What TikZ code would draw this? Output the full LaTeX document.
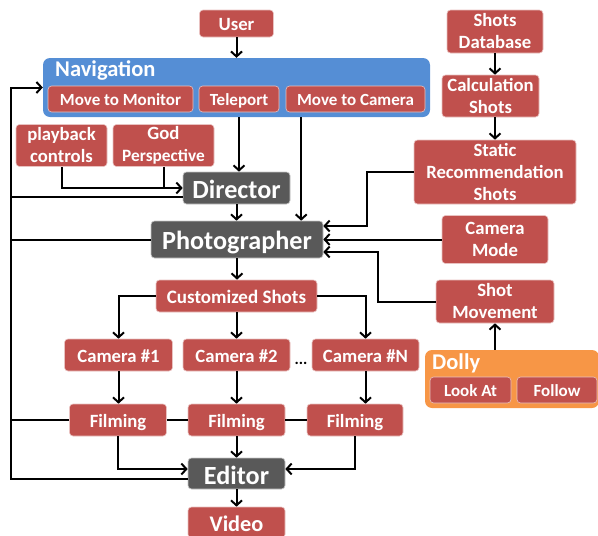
\documentclass[tikz,border=0pt]{standalone}
\usepackage{fontspec}
\setmainfont{Carlito}
\usetikzlibrary{arrows.meta}
\definecolor{myred}{HTML}{C0504D}
\definecolor{mygray}{HTML}{595959}
\definecolor{myblue}{HTML}{558ED5}
\definecolor{myorange}{HTML}{F79646}
\tikzset{
  box/.style={rounded corners=3.5pt, inner sep=0pt, text=white, align=center, line width=0.6pt},
  rbox/.style={box, fill=myred, draw=white!65!myred, font=\bfseries\fontsize{18.7}{22}\selectfont},
  sbox/.style={rbox, font=\bfseries\fontsize{17}{20}\selectfont},
  gbox/.style={box, fill=mygray, draw=white!65!mygray, font=\bfseries\fontsize{26.2}{28}\selectfont},
  oneline/.style={text height=#1pt, text depth=0.5pt},
  group/.style={rounded corners=7pt, inner sep=0pt},
  grouplabel/.style={text=white, inner sep=0pt, anchor=west, font=\bfseries\fontsize{22.5}{25}\selectfont},
  wire/.style={line width=2pt, black},
  arr/.style={wire, -{Straight Barb[length=5pt,width=11pt]}},
}
\begin{document}
\begin{tikzpicture}[x=1pt,y=-1pt]
\useasboundingbox (0,0) rectangle (598,536);
% containers
\node[group, fill=myblue, minimum width=387, minimum height=59] (nav) at (236.5,87.5) {};
\node[grouplabel] (navlabel) at (55,70) {Navigation};
\node[group, fill=myorange, minimum width=174, minimum height=58] (dolly) at (512,379) {};
\node[grouplabel] (dollylabel) at (432,363) {Dolly};
% nodes
\node[rbox, oneline=15.3, minimum width=74, minimum height=27] (user) at (236.5,23.5) {User};
\node[sbox, oneline=13.9, minimum width=145, minimum height=26] (mtm) at (120.5,99) {Move to Monitor};
\node[sbox, oneline=13.9, minimum width=80, minimum height=26] (tele) at (239,99) {Teleport};
\node[sbox, oneline=13.9, minimum width=139, minimum height=26] (mtc) at (355.5,99) {Move to Camera};
\node[rbox, minimum width=91, minimum height=42] (play) at (61.5,145.5) {playback\\controls};
\node[rbox, minimum width=101, minimum height=42] (god) at (163.5,145.5) {God\\{\fontsize{17.3}{20}\selectfont Perspective}};
\node[gbox, oneline=21.5, minimum width=107, minimum height=32] (dir) at (236.5,188) {Director};
\node[gbox, oneline=20.5, minimum width=172, minimum height=37] (phot) at (237,239.5) {Photographer};
\node[rbox, minimum width=96, minimum height=43] (sdb) at (495,31.5) {Shots\\Database};
\node[rbox, minimum width=97, minimum height=42] (calc) at (490.5,96) {Calculation\\Shots};
\node[rbox, minimum width=162, minimum height=64] (srs) at (495,172) {Static\\Recommendation\\Shots};
\node[rbox, minimum width=106, minimum height=48] (cmode) at (495,239.5) {Camera\\Mode};
\node[rbox, minimum width=118, minimum height=43] (smov) at (495,301.5) {Shot\\Movement};
\node[sbox, oneline=13.9, minimum width=81, minimum height=26] (look) at (470.5,390) {Look At};
\node[sbox, oneline=13.9, minimum width=80, minimum height=26] (follow) at (557,390) {Follow};
\node[rbox, oneline=15.6, font=\bfseries\fontsize{19}{22}\selectfont, minimum width=161, minimum height=32] (cust) at (236.5,296) {Customized Shots};
\node[rbox, oneline=15.3, minimum width=108, minimum height=32] (cam1) at (118.5,355) {Camera \#1};
\node[rbox, oneline=15.3, minimum width=107, minimum height=32] (cam2) at (236.5,355) {Camera \#2};
\node[rbox, oneline=15.3, minimum width=107, minimum height=32] (camn) at (365.5,355) {Camera \#N};
\node[inner sep=0pt, font=\bfseries\fontsize{16}{18}\selectfont] (dots) at (301,363.5) {...};
\node[rbox, oneline=15.3, minimum width=97, minimum height=32] (film1) at (118,420) {Filming};
\node[rbox, oneline=15.3, minimum width=97, minimum height=32] (film2) at (236.5,420) {Filming};
\node[rbox, oneline=15.3, minimum width=96, minimum height=32] (film3) at (355,420) {Filming};
\node[gbox, oneline=21.5, minimum width=97, minimum height=31] (edit) at (236.5,473.5) {Editor};
\node[rbox, oneline=18.3, font=\bfseries\fontsize{22.3}{24}\selectfont, minimum width=97, minimum height=31] (video) at (236.5,522.5) {Video};
% coordinates
\coordinate (bustop) at (11,87.5);
\coordinate (dirb) at ([yshift=-9pt]dir.west);
\coordinate (edb) at ([yshift=-5.5pt]edit.west);
\coordinate (mtcx) at ([xshift=15.5pt]mtc.south west);
% top flow
\draw[arr] (user.south) -- (user.south |- nav.north);
\draw[arr] (tele.south |- nav.south) -- (tele.south |- dir.north);
\draw[arr] (mtcx |- nav.south) -- (mtcx |- phot.north);
\draw[arr] (play.south) |- (dir.west);
\draw[wire] (god.south) -- (god.south |- dir.west);
\draw[arr] (dir.south) -- (dir.south |- phot.north);
% right side
\draw[arr] (sdb.south) -- (sdb.south |- calc.north);
\draw[arr] (calc.south -| srs.north) -- (srs.north);
\draw[arr] (srs.west) -- ++(-47,0) |- ([yshift=13.5pt]phot.east);
\draw[arr] (cmode.west) -- (phot.east);
\draw[arr] (smov.west) -- ++(-57.5,0) |- ([yshift=-12.5pt]phot.east);
\draw[arr] (smov.south |- dolly.north) -- (smov.south);
% lower flow
\draw[arr] (phot.south) -- (phot.south |- cust.north);
\draw[arr] (cust.west) -| (cam1.north);
\draw[arr] (cust.east) -| (camn.north);
\draw[arr] (cust.south) -- (cam2.north);
\draw[arr] (cam1.south) -- (cam1.south |- film1.north);
\draw[arr] (cam2.south) -- (film2.north);
\draw[arr] (camn.south) -- (camn.south |- film3.north);
\draw[arr] (film1.south) |- ([yshift=4.5pt]edit.west);
\draw[arr] (film3.south) |- ([yshift=4.5pt]edit.east);
\draw[arr] (film2.south) -- (edit.north);
\draw[arr] (edit.south) -- (video.north);
% feedback bus
\draw[wire] (film1.east) -- (film2.west);
\draw[wire] (film2.east) -- (film3.west);
\draw[wire] (film1.west) -- (film1.west -| bustop);
\draw[wire] (phot.west) -- (phot.west -| bustop);
\draw[wire] (dirb) -- (dirb -| bustop);
\draw[arr] (edb) -- (edb -| bustop) -- (bustop) -- (nav.west);
\end{tikzpicture}
\end{document}
